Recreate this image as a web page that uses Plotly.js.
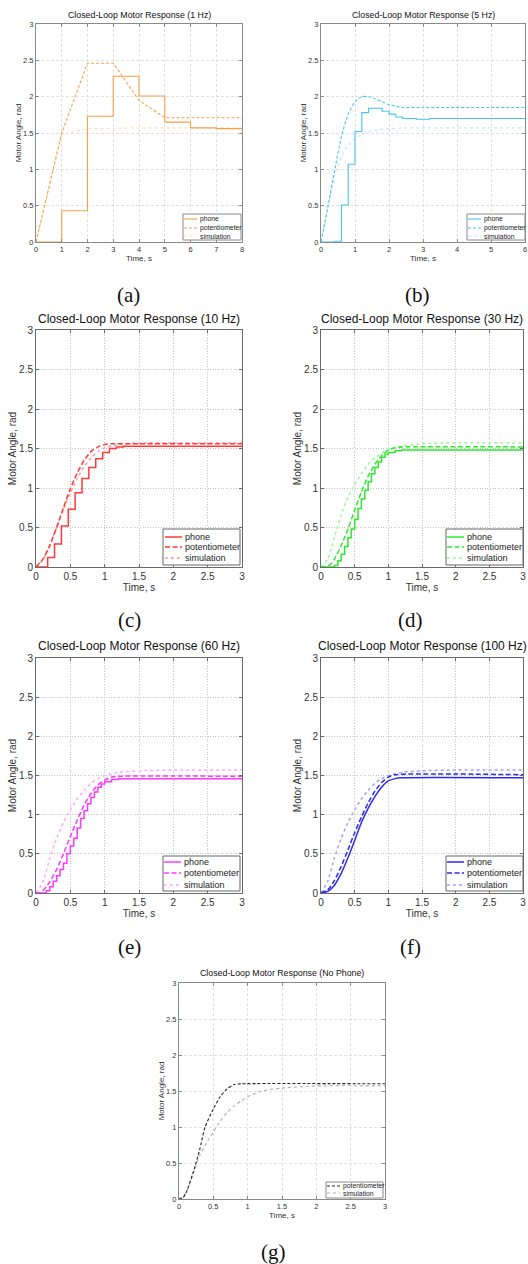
<!DOCTYPE html>
<html><head><meta charset="utf-8">
<script src="https://cdn.plot.ly/plotly-3.0.1.min.js"></script>
<style>html,body{margin:0;padding:0;background:#fff}#chart{width:528px;height:1264px}</style>
</head><body><div id="chart"></div>
<script>
// ---------------- DATA ----------------
const seriesNames = ['phone', 'potentiometer', 'simulation'];
const panelTitles = ['Closed-Loop Motor Response (1 Hz)', 'Closed-Loop Motor Response (5 Hz)',
  'Closed-Loop Motor Response (10 Hz)', 'Closed-Loop Motor Response (30 Hz)',
  'Closed-Loop Motor Response (60 Hz)', 'Closed-Loop Motor Response (100 Hz)',
  'Closed-Loop Motor Response (No Phone)'];
const captions = ['(a)', '(b)', '(c)', '(d)', '(e)', '(f)', '(g)'];
const xTitle = 'Time, s';
const yTitle = 'Motor Angle, rad';

// (a) 1 Hz
const a_phone_t = [0, 1, 2, 3, 4, 5, 6, 7, 8];
const a_phone_y = [0, 0.43, 1.73, 2.28, 2.01, 1.65, 1.57, 1.56, 1.56];
const a_pot_t = [0, 1, 2, 3, 4, 5, 6, 7, 8];
const a_pot_y = [0, 1.50, 2.46, 2.46, 1.95, 1.71, 1.71, 1.71, 1.71];
const a_sim_t = [0, 1, 2, 3, 4, 5, 6, 7, 8];
const a_sim_y = [0, 1.48, 1.56, 1.57, 1.57, 1.57, 1.57, 1.57, 1.57];

// (b) 5 Hz
const b_phone_t = [0, 0.2, 0.4, 0.6, 0.8, 1.0, 1.2, 1.4, 1.6, 1.8, 2.0, 2.2, 2.4, 2.6, 2.8, 3.0, 3.2, 6];
const b_phone_y = [0, 0, 0.01, 0.51, 1.07, 1.52, 1.78, 1.84, 1.84, 1.80, 1.76, 1.72, 1.70, 1.70, 1.69, 1.69, 1.70, 1.70];
const b_pot_t = [0, 0.2, 0.4, 0.6, 0.8, 1.0, 1.2, 1.4, 1.6, 1.8, 2.0, 2.2, 2.4, 2.6, 3, 6];
const b_pot_y = [0, 0.48, 0.98, 1.45, 1.76, 1.93, 2.0, 2.0, 1.97, 1.93, 1.89, 1.87, 1.85, 1.85, 1.85, 1.85];
const b_sim_t = [0, 0.2, 0.4, 0.6, 0.8, 1.0, 1.2, 1.4, 1.6, 2.0, 2.5, 3, 6];
const b_sim_y = [0, 0.45, 0.92, 1.18, 1.33, 1.42, 1.48, 1.52, 1.54, 1.56, 1.57, 1.57, 1.57];

// (c) 10 Hz
const c_phone_t = [0, 0.17, 0.27, 0.37, 0.47, 0.57, 0.67, 0.77, 0.87, 0.97, 1.07, 1.17, 1.27, 3];
const c_phone_y = [0, 0.12, 0.29, 0.52, 0.73, 0.94, 1.12, 1.26, 1.37, 1.45, 1.50, 1.52, 1.53, 1.53];
const c_pot_t = [0, 0.1, 0.2, 0.3, 0.4, 0.5, 0.6, 0.7, 0.8, 0.9, 1.0, 1.1, 1.5, 3];
const c_pot_y = [0, 0.1, 0.27, 0.5, 0.75, 0.99, 1.19, 1.35, 1.46, 1.52, 1.55, 1.56, 1.56, 1.56];
const c_sim_t = [0, 0.1, 0.2, 0.3, 0.4, 0.5, 0.6, 0.7, 0.8, 0.9, 1.0, 1.2, 1.5, 2, 3];
const c_sim_y = [0, 0.09, 0.27, 0.5, 0.73, 0.94, 1.12, 1.27, 1.38, 1.46, 1.51, 1.55, 1.57, 1.57, 1.57];

// (d) 30 Hz
const d_phone_t = [0, 0.2, 0.25, 0.3, 0.35, 0.4, 0.45, 0.5, 0.55, 0.6, 0.65, 0.7, 0.75, 0.8, 0.85, 0.9, 0.95, 1.0, 1.1, 1.2, 3];
const d_phone_y = [0, 0.02, 0.08, 0.16, 0.26, 0.37, 0.48, 0.6, 0.74, 0.86, 0.97, 1.08, 1.18, 1.26, 1.33, 1.39, 1.43, 1.45, 1.47, 1.48, 1.48];
const d_pot_t = [0, 0.1, 0.15, 0.2, 0.3, 0.4, 0.5, 0.6, 0.7, 0.8, 0.9, 1.0, 1.1, 1.2, 3];
const d_pot_y = [0, 0.01, 0.04, 0.1, 0.27, 0.48, 0.72, 0.95, 1.15, 1.3, 1.41, 1.48, 1.51, 1.52, 1.52];
const d_sim_t = [0, 0.1, 0.2, 0.3, 0.4, 0.5, 0.6, 0.7, 0.8, 0.9, 1.0, 1.2, 1.5, 2, 3];
const d_sim_y = [0, 0.1, 0.38, 0.66, 0.88, 1.04, 1.18, 1.30, 1.38, 1.44, 1.49, 1.53, 1.56, 1.57, 1.57];

// (e) 60 Hz
const e_phone_t = [0, 0.1, 0.15, 0.2, 0.25, 0.3, 0.35, 0.4, 0.45, 0.5, 0.55, 0.6, 0.65, 0.7, 0.75, 0.8, 0.85, 0.9, 0.95, 1.0, 1.1, 1.2, 3];
const e_phone_y = [0, 0, 0.03, 0.08, 0.15, 0.22, 0.3, 0.38, 0.5, 0.6, 0.7, 0.83, 0.95, 1.05, 1.14, 1.22, 1.29, 1.35, 1.39, 1.42, 1.45, 1.46, 1.46];
const e_pot_t = [0, 0.05, 0.1, 0.2, 0.3, 0.4, 0.5, 0.6, 0.7, 0.8, 0.9, 1.0, 1.1, 1.2, 3];
const e_pot_y = [0, 0, 0.03, 0.14, 0.3, 0.5, 0.72, 0.93, 1.12, 1.27, 1.38, 1.44, 1.48, 1.49, 1.49];
const e_sim_t = [0, 0.1, 0.2, 0.3, 0.4, 0.5, 0.6, 0.7, 0.8, 0.9, 1.0, 1.2, 1.5, 2, 3];
const e_sim_y = [0, 0.14, 0.44, 0.7, 0.9, 1.06, 1.2, 1.31, 1.40, 1.46, 1.50, 1.54, 1.56, 1.57, 1.57];

// (f) 100 Hz
const f_phone_t = [0, 0.1, 0.2, 0.3, 0.4, 0.5, 0.6, 0.7, 0.8, 0.9, 1.0, 1.1, 1.2, 3];
const f_phone_y = [0, 0.02, 0.1, 0.25, 0.45, 0.67, 0.9, 1.08, 1.23, 1.35, 1.43, 1.46, 1.47, 1.47];
const f_pot_t = [0, 0.1, 0.2, 0.3, 0.4, 0.5, 0.6, 0.7, 0.8, 0.9, 1.0, 1.1, 3];
const f_pot_y = [0, 0.04, 0.16, 0.34, 0.55, 0.77, 0.97, 1.15, 1.3, 1.41, 1.48, 1.51, 1.51];
const f_sim_t = [0, 0.1, 0.2, 0.3, 0.4, 0.5, 0.6, 0.7, 0.8, 0.9, 1.0, 1.2, 1.5, 2, 3];
const f_sim_y = [0, 0.15, 0.45, 0.7, 0.9, 1.06, 1.2, 1.31, 1.40, 1.46, 1.50, 1.54, 1.56, 1.57, 1.57];

// (g) No phone
const g_pot_t = [0, 0.05, 0.1, 0.2, 0.3, 0.38, 0.5, 0.6, 0.7, 0.8, 0.9, 3];
const g_pot_y = [0, 0.01, 0.08, 0.35, 0.68, 1.0, 1.25, 1.42, 1.53, 1.59, 1.6, 1.6];
const g_sim_t = [0, 0.1, 0.2, 0.3, 0.4, 0.5, 0.6, 0.7, 0.8, 0.9, 1.0, 1.2, 1.5, 2, 3];
const g_sim_y = [0, 0.08, 0.33, 0.6, 0.78, 0.93, 1.08, 1.2, 1.29, 1.36, 1.42, 1.5, 1.54, 1.57, 1.57];

// ---------------- STYLE / LAYOUT ----------------
const W = 528, H = 1264;
const PX = v => v / W, PY = v => 1 - v / H;

const panels = [
  {sfx: '', L: 36, R: 242, T: 24, B: 242, xmax: 8, dtick: 1, small: true, col: '#F7A045', sim: '#FCDDB9',
   phone: [a_phone_t, a_phone_y], pot: [a_pot_t, a_pot_y], simd: [a_sim_t, a_sim_y], phoneShape: 'hv', smooth: false,
   leg: {x0: 183, x1: 241, y0: 214, y1: 240, rows: [219, 228, 236], s0: 184, s1: 197, tx: 198}, cap: [128, 295], titleY: 15},
  {sfx: '2', L: 321, R: 525, T: 24, B: 242, xmax: 6, dtick: 1, small: true, col: '#48C3F0', sim: '#BDE9F9',
   phone: [b_phone_t, b_phone_y], pot: [b_pot_t, b_pot_y], simd: [b_sim_t, b_sim_y], phoneShape: 'hv', smooth: true,
   leg: {x0: 467, x1: 525, y0: 214, y1: 240, rows: [219, 228, 236], s0: 468, s1: 481, tx: 482}, cap: [417, 295], titleY: 15},
  {sfx: '3', L: 36, R: 242, T: 330, B: 567, xmax: 3, dtick: 0.5, small: false, col: '#FF3A3A', sim: '#FF9C9C',
   phone: [c_phone_t, c_phone_y], pot: [c_pot_t, c_pot_y], simd: [c_sim_t, c_sim_y], phoneShape: 'hv', smooth: true,
   leg: {x0: 163, x1: 240, y0: 529, y1: 565, rows: [537, 547, 558], s0: 165, s1: 182, tx: 183}, cap: [129, 620], titleY: 319},
  {sfx: '4', L: 321, R: 523, T: 330, B: 567, xmax: 3, dtick: 0.5, small: false, col: '#2EE82E', sim: '#A0F5A0',
   phone: [d_phone_t, d_phone_y], pot: [d_pot_t, d_pot_y], simd: [d_sim_t, d_sim_y], phoneShape: 'hv', smooth: true,
   leg: {x0: 446, x1: 523, y0: 529, y1: 565, rows: [537, 547, 558], s0: 447, s1: 464, tx: 465}, cap: [410, 620], titleY: 319},
  {sfx: '5', L: 36, R: 242, T: 658, B: 893, xmax: 3, dtick: 0.5, small: false, col: '#FF38FF', sim: '#FFA6FF',
   phone: [e_phone_t, e_phone_y], pot: [e_pot_t, e_pot_y], simd: [e_sim_t, e_sim_y], phoneShape: 'hv', smooth: true,
   leg: {x0: 163, x1: 240, y0: 856, y1: 891, rows: [862, 873, 885], s0: 164, s1: 181, tx: 182}, cap: [129, 947], titleY: 646},
  {sfx: '6', L: 321, R: 523, T: 658, B: 893, xmax: 3, dtick: 0.5, small: false, col: '#2B2BF0', sim: '#A0A0FF',
   phone: [f_phone_t, f_phone_y], pot: [f_pot_t, f_pot_y], simd: [f_sim_t, f_sim_y], phoneShape: 'spline', smooth: true,
   leg: {x0: 446, x1: 523, y0: 856, y1: 891, rows: [862, 873, 885], s0: 447, s1: 464, tx: 465}, cap: [410, 947], titleY: 646},
  {sfx: '7', L: 179, R: 385, T: 983, B: 1199, xmax: 3, dtick: 0.5, small: true, col: '#222222', sim: '#ADADAD',
   phone: null, pot: [g_pot_t, g_pot_y], simd: [g_sim_t, g_sim_y], phoneShape: 'hv', smooth: true,
   leg: {x0: 326, x1: 383, y0: 1182, y1: 1198, rows: [1186, 1193], s0: 327, s1: 340, tx: 341}, cap: [273, 1252], titleY: 973}
];

const FONT = 'Liberation Sans, Arial, sans-serif';
const traces = [];
const layout = {
  width: W, height: H, margin: {l: 0, r: 0, t: 0, b: 0},
  paper_bgcolor: '#ffffff', plot_bgcolor: 'rgba(0,0,0,0)', showlegend: false,
  font: {family: FONT, color: '#222'}, annotations: [], shapes: []
};

panels.forEach((p, i) => {
  const xa = 'x' + p.sfx, ya = 'y' + p.sfx;
  const tf = p.small ? 7.5 : 10, af = p.small ? 8 : 10, ttf = p.small ? 8.8 : 12, lf = p.small ? 6.8 : 9;
  const lw = p.small ? 1.1 : 1.5;
  const grid = p.small ? {gridcolor: '#d9d9d9', griddash: '3px,2px', gridwidth: 0.8}
                       : {gridcolor: '#b8b8b8', griddash: '1px,1.6px', gridwidth: 0.8};
  const common = Object.assign({
    showgrid: true, zeroline: false, showline: true, linecolor: p.small ? '#8a8a8a' : '#6a6a6a',
    linewidth: 1, mirror: 'ticks', ticks: 'inside', ticklen: 3, tickcolor: p.small ? '#8a8a8a' : '#6a6a6a',
    tickfont: {size: tf, family: FONT, color: '#333'}, automargin: false, fixedrange: true,
    ticklabeloverflow: 'allow'
  }, grid);
  layout['xaxis' + p.sfx] = Object.assign({}, common, {
    domain: [PX(p.L), PX(p.R)], anchor: ya, range: [0, p.xmax], dtick: p.dtick, tick0: 0,
    title: {text: xTitle, font: {size: af, family: FONT, color: '#333'}, standoff: 0}
  });
  layout['yaxis' + p.sfx] = Object.assign({}, common, {
    domain: [PY(p.B), PY(p.T)], anchor: xa, range: [0, 3], dtick: 0.5, tick0: 0,
    title: {text: yTitle, font: {size: af, family: FONT, color: '#333'}, standoff: 0}
  });
  const sh = p.smooth ? {shape: 'spline', smoothing: 0.6} : {shape: 'linear'};
  const dashPot = p.small ? '3px,2px' : '5px,2.5px';
  if (p.simd) traces.push({x: p.simd[0], y: p.simd[1], xaxis: xa, yaxis: ya, type: 'scatter', mode: 'lines',
    name: seriesNames[2], line: Object.assign({color: p.sim, width: lw, dash: 'dot'}, sh), hoverinfo: 'skip'});
  if (p.pot) traces.push({x: p.pot[0], y: p.pot[1], xaxis: xa, yaxis: ya, type: 'scatter', mode: 'lines',
    name: seriesNames[1], line: Object.assign({color: p.col, width: lw, dash: dashPot}, sh), hoverinfo: 'skip'});
  if (p.phone) traces.push({x: p.phone[0], y: p.phone[1], xaxis: xa, yaxis: ya, type: 'scatter', mode: 'lines',
    name: seriesNames[0], line: p.phoneShape === 'spline' ? {color: p.col, width: lw, shape: 'spline', smoothing: 0.6} : {color: p.col, width: lw, shape: 'hv'}, hoverinfo: 'skip'});

  // title
  layout.annotations.push({text: panelTitles[i], xref: 'paper', yref: 'paper', x: PX((p.L + p.R) / 2), y: PY(p.titleY),
    xanchor: 'center', yanchor: 'middle', showarrow: false, font: {size: ttf, family: FONT, color: '#111'}});
  // caption
  layout.annotations.push({text: captions[i], xref: 'paper', yref: 'paper', x: PX(p.cap[0]), y: PY(p.cap[1]),
    xanchor: 'center', yanchor: 'middle', showarrow: false, font: {size: 21, family: 'Liberation Serif, Times New Roman, serif', color: '#111'}});
  // legend box
  const lg = p.leg;
  layout.shapes.push({type: 'rect', xref: 'paper', yref: 'paper', x0: PX(lg.x0), x1: PX(lg.x1), y0: PY(lg.y1), y1: PY(lg.y0),
    line: {color: p.small ? '#8a8a8a' : '#666', width: 1}, fillcolor: '#ffffff', layer: 'above'});
  const entries = p.phone ? [[seriesNames[0], p.col, 'solid'], [seriesNames[1], p.col, dashPot], [seriesNames[2], p.sim, 'dot']]
                          : [[seriesNames[1], p.col, dashPot], [seriesNames[2], p.sim, 'dot']];
  entries.forEach((e, k) => {
    layout.shapes.push({type: 'line', xref: 'paper', yref: 'paper', x0: PX(lg.s0), x1: PX(lg.s1), y0: PY(lg.rows[k]), y1: PY(lg.rows[k]),
      line: {color: e[1], width: lw, dash: e[2]}, layer: 'above'});
    layout.annotations.push({text: e[0], xref: 'paper', yref: 'paper', x: PX(lg.tx), y: PY(lg.rows[k]),
      xanchor: 'left', yanchor: 'middle', showarrow: false, font: {size: lf, family: FONT, color: '#222'}});
  });
});

Plotly.newPlot('chart', traces, layout, {staticPlot: true, displayModeBar: false});
</script></body></html>
